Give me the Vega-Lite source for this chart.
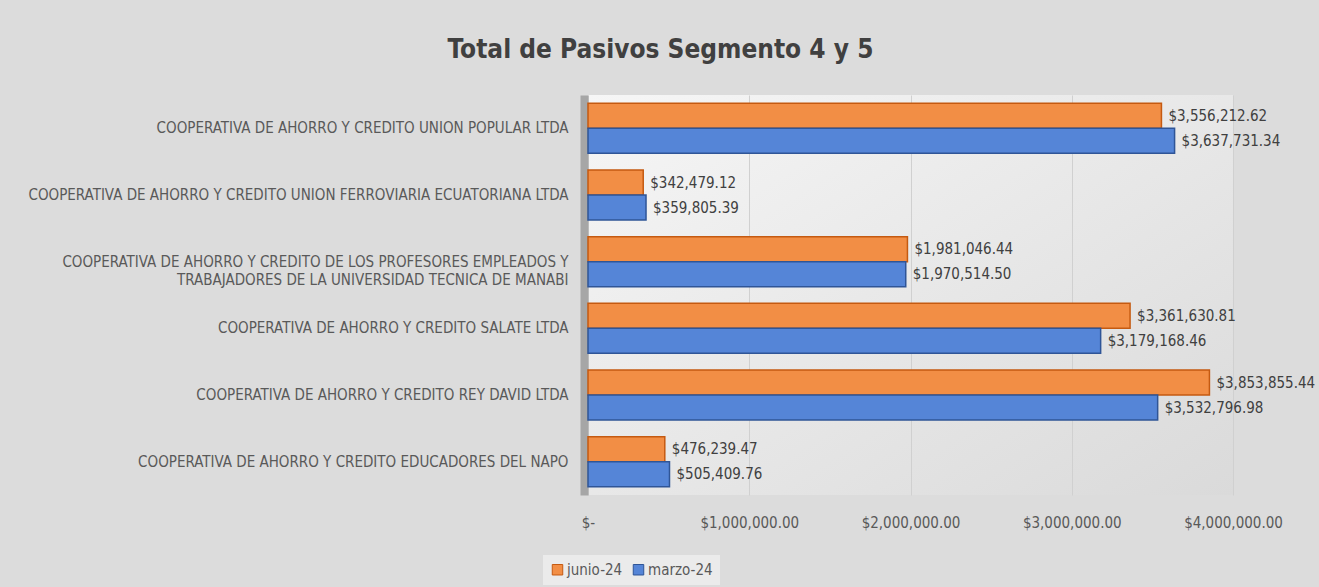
{
  "$schema": "https://vega.github.io/schema/vega-lite/v6.json",
  "autosize": {"type": "none"},
  "padding": {"left": 588, "top": 95, "right": 86, "bottom": 92},
  "width": 645,
  "height": 400,
  "background": "#DCDCDC",
  "title": {
    "text": "Total de Pasivos Segmento 4 y 5",
    "fontSize": 26,
    "fontWeight": "bold",
    "font": "Liberation Sans Narrow, DejaVu Sans Condensed, Roboto, sans-serif",
    "color": "#404040",
    "anchor": "middle",
    "dx": -250,
    "offset": 32
  },
  "data": {
    "values": [
      {"cooperativa": "COOPERATIVA DE AHORRO Y CREDITO UNION POPULAR LTDA", "periodo": "junio-24", "valor": 3556212.62},
      {"cooperativa": "COOPERATIVA DE AHORRO Y CREDITO UNION POPULAR LTDA", "periodo": "marzo-24", "valor": 3637731.34},
      {"cooperativa": "COOPERATIVA DE AHORRO Y CREDITO UNION FERROVIARIA ECUATORIANA LTDA", "periodo": "junio-24", "valor": 342479.12},
      {"cooperativa": "COOPERATIVA DE AHORRO Y CREDITO UNION FERROVIARIA ECUATORIANA LTDA", "periodo": "marzo-24", "valor": 359805.39},
      {"cooperativa": "COOPERATIVA DE AHORRO Y CREDITO DE LOS PROFESORES EMPLEADOS Y|TRABAJADORES DE LA UNIVERSIDAD TECNICA DE MANABI", "periodo": "junio-24", "valor": 1981046.44},
      {"cooperativa": "COOPERATIVA DE AHORRO Y CREDITO DE LOS PROFESORES EMPLEADOS Y|TRABAJADORES DE LA UNIVERSIDAD TECNICA DE MANABI", "periodo": "marzo-24", "valor": 1970514.50},
      {"cooperativa": "COOPERATIVA DE AHORRO Y CREDITO SALATE LTDA", "periodo": "junio-24", "valor": 3361630.81},
      {"cooperativa": "COOPERATIVA DE AHORRO Y CREDITO SALATE LTDA", "periodo": "marzo-24", "valor": 3179168.46},
      {"cooperativa": "COOPERATIVA DE AHORRO Y CREDITO REY DAVID LTDA", "periodo": "junio-24", "valor": 3853855.44},
      {"cooperativa": "COOPERATIVA DE AHORRO Y CREDITO REY DAVID LTDA", "periodo": "marzo-24", "valor": 3532796.98},
      {"cooperativa": "COOPERATIVA DE AHORRO Y CREDITO EDUCADORES DEL NAPO", "periodo": "junio-24", "valor": 476239.47},
      {"cooperativa": "COOPERATIVA DE AHORRO Y CREDITO EDUCADORES DEL NAPO", "periodo": "marzo-24", "valor": 505409.76}
    ]
  },
  "encoding": {
    "y": {
      "field": "cooperativa",
      "type": "nominal",
      "sort": null,
      "scale": {"paddingInner": 0.25, "paddingOuter": 0.125},
      "axis": {
        "title": null,
        "labelExpr": "split(datum.value, '|')",
        "labelFont": "Liberation Sans Narrow, DejaVu Sans Condensed, Roboto, sans-serif",
        "labelFontSize": 15,
        "labelColor": "#595959",
        "labelLimit": 700,
        "labelLineHeight": 18,
        "labelPadding": 16,
        "ticks": false,
        "domainColor": "#A6A6A6",
        "domainWidth": 8,
        "offset": 4
      }
    },
    "yOffset": {"field": "periodo", "type": "nominal", "sort": ["junio-24", "marzo-24"]},
    "x": {
      "field": "valor",
      "type": "quantitative",
      "scale": {"domain": [0, 4000000], "nice": false},
      "axis": {
        "title": null,
        "values": [0, 1000000, 2000000, 3000000, 4000000],
        "labelExpr": "datum.value == 0 ? '$-' : format(datum.value, '$,.2f')",
        "labelFont": "Liberation Sans Narrow, DejaVu Sans Condensed, Roboto, sans-serif",
        "labelFontSize": 15,
        "labelColor": "#595959",
        "labelPadding": 20,
        "ticks": false,
        "domain": false,
        "grid": true,
        "gridColor": "#D0D0D0",
        "labelFlush": false
      }
    }
  },
  "layer": [
    {
      "mark": {"type": "bar", "strokeWidth": 1.5},
      "encoding": {
        "color": {
          "field": "periodo",
          "type": "nominal",
          "scale": {"domain": ["junio-24", "marzo-24"], "range": ["#F28E45", "#5585D7"]},
          "legend": {
            "title": null,
            "orient": "none",
            "legendX": -45,
            "legendY": 460,
            "direction": "horizontal",
            "symbolType": "square",
            "symbolSize": 110,
            "symbolStrokeWidth": 1,
            "labelFont": "Liberation Sans Narrow, DejaVu Sans Condensed, Roboto, sans-serif",
            "labelFontSize": 15,
            "labelColor": "#595959",
            "fillColor": "#EBEBEB",
            "padding": 7,
            "columnPadding": 8,
            "labelOffset": 2
          }
        },
        "stroke": {
          "field": "periodo",
          "type": "nominal",
          "scale": {"domain": ["junio-24", "marzo-24"], "range": ["#C55A11", "#2F5597"]}
        }
      }
    },
    {
      "mark": {"type": "text", "align": "left", "dx": 7, "fontSize": 15, "color": "#404040", "font": "Liberation Sans Narrow, DejaVu Sans Condensed, Roboto, sans-serif"},
      "encoding": {
        "text": {"field": "valor", "type": "quantitative", "format": "$,.2f"}
      }
    }
  ],
  "config": {
    "view": {
      "stroke": null,
      "fill": {
        "gradient": "linear",
        "x1": 0, "y1": 0, "x2": 1, "y2": 1,
        "stops": [
          {"offset": 0, "color": "#F6F6F6"},
          {"offset": 1, "color": "#DADADA"}
        ]
      }
    }
  }
}
